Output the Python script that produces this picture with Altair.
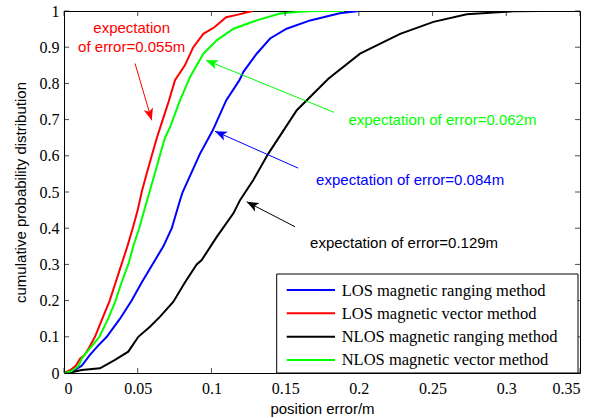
import math
import altair as alt
import pandas as pd

# ---------------- data ----------------
series_names = [
    "LOS magnetic ranging method",
    "LOS magnetic vector method",
    "NLOS magnetic ranging method",
    "NLOS magnetic vector method",
]
series_colors = ["#0000ff", "#ff0000", "#000000", "#00ff00"]

los_rng_x = [0, 0.006, 0.012, 0.0176, 0.023, 0.029, 0.038, 0.0459, 0.0527, 0.060, 0.0674, 0.0731,
             0.0787, 0.0805, 0.0923, 0.101, 0.110, 0.119, 0.1217, 0.1307, 0.1398, 0.151, 0.167, 0.187, 0.200]
los_rng_y = [0, 0.005, 0.02, 0.05, 0.075, 0.10, 0.15, 0.20, 0.25, 0.30, 0.35, 0.40,
             0.477, 0.50, 0.606, 0.671, 0.753, 0.809, 0.832, 0.882, 0.924, 0.951, 0.974, 0.994, 1.0]

los_vec_x = [0, 0.005, 0.008, 0.011, 0.014, 0.017, 0.021, 0.026, 0.031, 0.035, 0.039, 0.043, 0.0466,
             0.050, 0.0527, 0.056, 0.0595, 0.063, 0.067, 0.071, 0.0753, 0.082, 0.0877, 0.0945, 0.102,
             0.110, 0.118, 0.125, 0.128]
los_vec_y = [0, 0.01, 0.02, 0.04, 0.05, 0.07, 0.10, 0.15, 0.20, 0.25, 0.30, 0.35, 0.40,
             0.45, 0.50, 0.55, 0.60, 0.65, 0.70, 0.75, 0.809, 0.85, 0.90, 0.937, 0.955,
             0.983, 0.99, 0.997, 1.0]

nlos_rng_x = [0, 0.006, 0.012, 0.0244, 0.0346, 0.0436, 0.0504, 0.0583, 0.065, 0.0742, 0.082, 0.090,
              0.0934, 0.1036, 0.1149, 0.1194, 0.1284, 0.1386, 0.1579, 0.1793, 0.2008, 0.228, 0.2506,
              0.2732, 0.3045, 0.323]
nlos_rng_y = [0, 0.003, 0.008, 0.013, 0.036, 0.059, 0.10, 0.128, 0.155, 0.197, 0.25, 0.30,
              0.312, 0.376, 0.441, 0.4775, 0.533, 0.606, 0.726, 0.813, 0.882, 0.937, 0.970,
              0.991, 0.999, 1.0]

nlos_vec_x = [0, 0.005, 0.010, 0.012, 0.014, 0.019, 0.024, 0.030, 0.035, 0.039, 0.0436, 0.047, 0.051,
              0.0545, 0.058, 0.0615, 0.065, 0.0685, 0.072, 0.0787, 0.0855, 0.0945, 0.1036, 0.115,
              0.1307, 0.1465, 0.160, 0.170, 0.190]
nlos_vec_y = [0, 0.005, 0.02, 0.04, 0.05, 0.075, 0.10, 0.15, 0.20, 0.25, 0.30, 0.35, 0.40,
              0.45, 0.50, 0.55, 0.60, 0.65, 0.68, 0.753, 0.818, 0.882, 0.919, 0.951,
              0.974, 0.993, 0.998, 1.0, 1.0]

x_ticks = [0, 0.05, 0.1, 0.15, 0.2, 0.25, 0.3, 0.35]
y_ticks = [0, 0.1, 0.2, 0.3, 0.4, 0.5, 0.6, 0.7, 0.8, 0.9, 1.0]

# annotations (data coordinates)
ann_center_text = ["expectation", "of error=0.055m"]
ann_center_x = [0.0459, 0.0459]
ann_center_y = [0.952, 0.901]

ann_left_text = ["expectation of error=0.062m", "expectation of error=0.084m", "expectation of error=0.129m"]
ann_left_x = [0.1929, 0.171, 0.1669]
ann_left_y = [0.698, 0.533, 0.359]
ann_left_color = ["#00ff00", "#0000ff", "#000000"]

arrow_tail_x = [0.0482, 0.1832, 0.1588, 0.1567]
arrow_tail_y = [0.855, 0.720, 0.566, 0.404]
arrow_tip_x = [0.0595, 0.0963, 0.1024, 0.1239]
arrow_tip_y = [0.698, 0.864, 0.668, 0.473]
arrow_color = ["#ff0000", "#00ff00", "#0000ff", "#000000"]

# ---------------- layout ----------------
W, H = 516, 362
X_MAX = 0.35

xs = [los_rng_x, los_vec_x, nlos_rng_x, nlos_vec_x]
ys = [los_rng_y, los_vec_y, nlos_rng_y, nlos_vec_y]
rows = []
for name, sx, sy in zip(series_names, xs, ys):
    for i, (a, b) in enumerate(zip(sx, sy)):
        rows.append({"series": name, "err": a, "prob": b, "order": i})
df = pd.DataFrame(rows)

xscale = alt.Scale(domain=[0, X_MAX], nice=False, zero=False)
yscale = alt.Scale(domain=[0, 1], nice=False, zero=False)
cscale = alt.Scale(domain=series_names, range=series_colors)

x_axis = alt.Axis(values=x_ticks, format=".2~f", ticks=False, tickSize=0, domain=False, grid=False,
                  labelPadding=7, labelOverlap=False,
                  title="position error/m", titleY=40, titleBaseline="alphabetic")
y_axis = alt.Axis(values=y_ticks, format=".1~f", ticks=False, tickSize=0, domain=False, grid=False,
                  labelPadding=5, labelOverlap=False,
                  title="cumulative probability distribution",
                  titleX=-44, titleY=H / 2, titleAngle=270, titleAlign="center", titleBaseline="middle")


def X(field):
    return alt.X(field, scale=xscale, axis=x_axis)


def Y(field):
    return alt.Y(field, scale=yscale, axis=y_axis)


lines = alt.Chart(df).mark_line(strokeWidth=2, clip=True).encode(
    x=X("err:Q"),
    y=Y("prob:Q"),
    color=alt.Color("series:N", scale=cscale, legend=None),
    order="order:Q",
    detail="series:N",
)

# inner ticks on four sides
xt = pd.DataFrame({"err": x_ticks})
yt = pd.DataFrame({"prob": y_ticks})
tick_bottom = alt.Chart(xt).mark_tick(color="black", thickness=1, size=5).encode(
    x=X("err:Q"), y=alt.value(H - 2.5))
tick_top = alt.Chart(xt).mark_tick(color="black", thickness=1, size=5).encode(
    x=X("err:Q"), y=alt.value(2.5))
tick_left = alt.Chart(yt).mark_tick(color="black", thickness=1, size=5).encode(
    y=Y("prob:Q"), x=alt.value(2.5))
tick_right = alt.Chart(yt).mark_tick(color="black", thickness=1, size=5).encode(
    y=Y("prob:Q"), x=alt.value(W - 2.5))

# arrows
arr = pd.DataFrame({
    "err": arrow_tail_x, "prob": arrow_tail_y,
    "x1": arrow_tip_x, "y1": arrow_tip_y, "col": arrow_color,
})
angs = []
for a, b, c, d in zip(arrow_tail_x, arrow_tail_y, arrow_tip_x, arrow_tip_y):
    dx = (c - a) * W / X_MAX
    dy = -(d - b) * H
    angs.append(math.degrees(math.atan2(dx, -dy)) % 360)

arrow_lines = alt.Chart(arr).mark_rule(strokeWidth=1).encode(
    x=X("err:Q"), y=Y("prob:Q"),
    x2="x1:Q", y2="y1:Q",
    color=alt.Color("col:N", scale=None),
)
arr_tip = pd.DataFrame({"err": arrow_tip_x, "prob": arrow_tip_y, "col": arrow_color, "ang": angs})
head_path = "M0,0 L-0.8,2 L0,1.5 L0.8,2 Z"
arrow_heads = alt.Chart(arr_tip).mark_point(shape=head_path, filled=True, size=144, opacity=1).encode(
    x=X("err:Q"), y=Y("prob:Q"),
    angle=alt.Angle("ang:Q", scale=None),
    color=alt.Color("col:N", scale=None),
)

ann_c = pd.DataFrame({"t": ann_center_text, "err": ann_center_x, "prob": ann_center_y})
text_center = alt.Chart(ann_c).mark_text(align="center", baseline="middle", font="Liberation Sans",
                                         fontSize=15, color="#ff0000").encode(
    x=X("err:Q"), y=Y("prob:Q"), text="t:N")

ann_l = pd.DataFrame({"t": ann_left_text, "err": ann_left_x, "prob": ann_left_y, "col": ann_left_color})
text_left = alt.Chart(ann_l).mark_text(align="left", baseline="middle", font="Liberation Sans",
                                       fontSize=15).encode(
    x=X("err:Q"), y=Y("prob:Q"), text="t:N",
    color=alt.Color("col:N", scale=None))

# manual legend
leg = pd.DataFrame({"series": series_names, "idx": list(range(len(series_names)))})
box = alt.Chart(pd.DataFrame({"a": [0]})).mark_rect(fill="white", stroke="black", strokeWidth=1).encode(
    x=alt.value(212.7), x2=alt.value(514), y=alt.value(263), y2=alt.value(362))
leg_lines = alt.Chart(leg).transform_calculate(py="279 + 23.33 * datum.idx").mark_rule(strokeWidth=2).encode(
    x=alt.value(222.7), x2=alt.value(271),
    y=alt.Y("py:Q", scale=None),
    color=alt.Color("series:N", scale=cscale, legend=None))
leg_text = alt.Chart(leg).transform_calculate(py="279 + 23.33 * datum.idx + 5.5").mark_text(
    align="left", baseline="alphabetic", font="Liberation Serif", fontSize=16.5, color="black").encode(
    x=alt.value(277.7), y=alt.Y("py:Q", scale=None), text="series:N")

chart = alt.layer(
    lines, tick_bottom, tick_top, tick_left, tick_right,
    arrow_lines, arrow_heads, text_center, text_left,
    box, leg_lines, leg_text,
).properties(
    width=W, height=H,
    background="white",
    autosize=alt.AutoSizeParams(type="none"),
    padding={"left": 64, "top": 11, "right": 28, "bottom": 45},
).configure_view(
    stroke="black", strokeWidth=1,
).configure_axis(
    labelFont="Liberation Serif", labelFontSize=16, labelColor="black",
    titleFont="Liberation Sans", titleFontSize=15, titleFontWeight="normal", titleColor="black",
)

chart.save("out.html", embed_options={"renderer": "svg", "actions": False})
